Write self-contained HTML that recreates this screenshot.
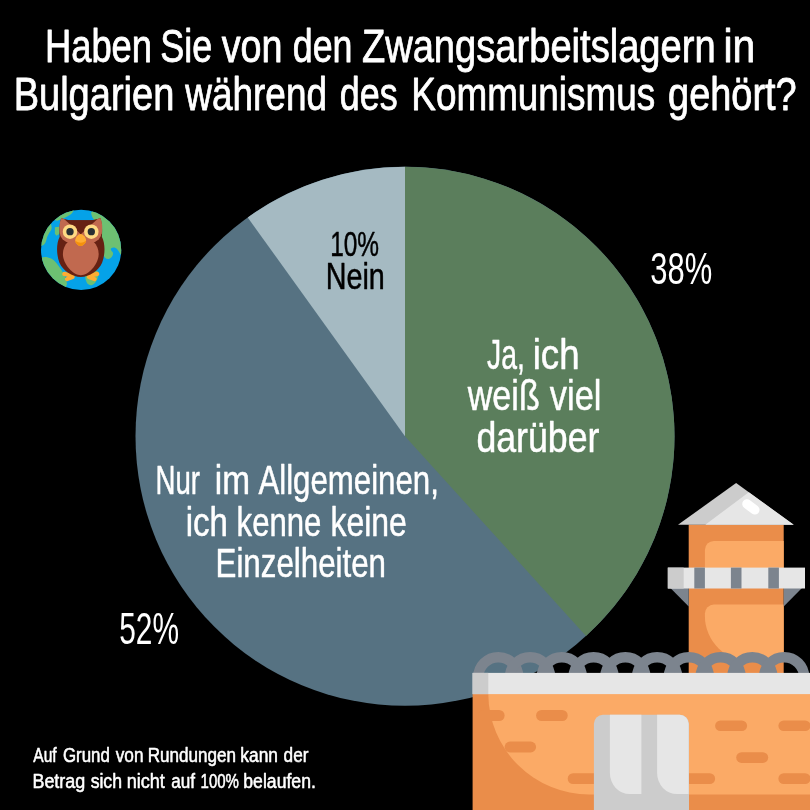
<!DOCTYPE html>
<html lang="de"><head><meta charset="utf-8"><title>Zwangsarbeitslager Umfrage</title>
<style>html,body{margin:0;padding:0;background:#000;}svg{display:block}text{font-family:"Liberation Sans",sans-serif;}</style>
</head><body>
<svg width="810" height="810" viewBox="0 0 810 810">
<rect width="810" height="810" fill="#000"/>
<circle cx="405" cy="436.3" r="269.5" fill="#567282"/>
<path d="M405 436.3 L405.00 166.80 A269.5 269.5 0 0 1 586.03 635.95 Z" fill="#5B7E5C"/>
<path d="M405 436.3 L247.74 217.44 A269.5 269.5 0 0 1 405.00 166.80 Z" fill="#A5BAC2"/>
<text y="62.2" font-size="46" fill="#fff" stroke="#fff" stroke-width="0.8" stroke-linejoin="round"><tspan x="44.97" textLength="107.08" lengthAdjust="spacingAndGlyphs">Haben</tspan> <tspan x="160.36" textLength="52.03" lengthAdjust="spacingAndGlyphs">Sie</tspan> <tspan x="221.77" textLength="60.81" lengthAdjust="spacingAndGlyphs">von</tspan> <tspan x="292.80" textLength="59.65" lengthAdjust="spacingAndGlyphs">den</tspan> <tspan x="361.88" textLength="353.74" lengthAdjust="spacingAndGlyphs">Zwangsarbeitslagern</tspan> <tspan x="723.47" textLength="31.81" lengthAdjust="spacingAndGlyphs">in</tspan></text>
<text y="110.3" font-size="46" fill="#fff" stroke="#fff" stroke-width="0.8" stroke-linejoin="round"><tspan x="13.64" textLength="160.70" lengthAdjust="spacingAndGlyphs">Bulgarien</tspan> <tspan x="185.37" textLength="141.60" lengthAdjust="spacingAndGlyphs">während</tspan> <tspan x="339.81" textLength="57.82" lengthAdjust="spacingAndGlyphs">des</tspan> <tspan x="411.33" textLength="243.84" lengthAdjust="spacingAndGlyphs">Kommunismus</tspan> <tspan x="668.12" textLength="128.56" lengthAdjust="spacingAndGlyphs">gehört?</tspan></text>
<text y="256.3" font-size="35.8" fill="#000" stroke="#000" stroke-width="0.5" stroke-linejoin="round"><tspan x="330.13" textLength="48.90" lengthAdjust="spacingAndGlyphs">10%</tspan></text>
<text y="289.2" font-size="36.8" fill="#000" stroke="#000" stroke-width="0.5" stroke-linejoin="round"><tspan x="325.74" textLength="59.11" lengthAdjust="spacingAndGlyphs">Nein</tspan></text>
<text y="283.5" font-size="43.8" fill="#fff"><tspan x="650.29" textLength="61.95" lengthAdjust="spacingAndGlyphs">38%</tspan></text>
<text y="643.5" font-size="43.8" fill="#fff"><tspan x="119.18" textLength="59.81" lengthAdjust="spacingAndGlyphs">52%</tspan></text>
<text y="369.4" font-size="43" fill="#fff" stroke="#fff" stroke-width="0.5" stroke-linejoin="round"><tspan x="487.02" textLength="37.80" lengthAdjust="spacingAndGlyphs">Ja,</tspan> <tspan x="532.69" textLength="46.87" lengthAdjust="spacingAndGlyphs">ich</tspan></text>
<text y="410.1" font-size="43" fill="#fff" stroke="#fff" stroke-width="0.5" stroke-linejoin="round"><tspan x="467.68" textLength="72.08" lengthAdjust="spacingAndGlyphs">weiß</tspan> <tspan x="549.82" textLength="51.59" lengthAdjust="spacingAndGlyphs">viel</tspan></text>
<text y="451.5" font-size="43" fill="#fff" stroke="#fff" stroke-width="0.5" stroke-linejoin="round"><tspan x="476.39" textLength="123.05" lengthAdjust="spacingAndGlyphs">darüber</tspan></text>
<text y="494.4" font-size="40" fill="#fff" stroke="#fff" stroke-width="0.5" stroke-linejoin="round"><tspan x="155.52" textLength="44.50" lengthAdjust="spacingAndGlyphs">Nur</tspan> <tspan x="214.85" textLength="35.23" lengthAdjust="spacingAndGlyphs">im</tspan> <tspan x="258.41" textLength="180.44" lengthAdjust="spacingAndGlyphs">Allgemeinen,</tspan></text>
<text y="535.5" font-size="40" fill="#fff" stroke="#fff" stroke-width="0.5" stroke-linejoin="round"><tspan x="185.79" textLength="42.15" lengthAdjust="spacingAndGlyphs">ich</tspan> <tspan x="236.58" textLength="84.77" lengthAdjust="spacingAndGlyphs">kenne</tspan> <tspan x="330.51" textLength="76.36" lengthAdjust="spacingAndGlyphs">keine</tspan></text>
<text y="576.5" font-size="40" fill="#fff" stroke="#fff" stroke-width="0.5" stroke-linejoin="round"><tspan x="215.56" textLength="170.40" lengthAdjust="spacingAndGlyphs">Einzelheiten</tspan></text>
<text y="762.0" font-size="20" fill="#fff" stroke="#fff" stroke-width="0.55" stroke-linejoin="round"><tspan x="33.34" textLength="23.36" lengthAdjust="spacingAndGlyphs">Auf</tspan> <tspan x="62.97" textLength="46.83" lengthAdjust="spacingAndGlyphs">Grund</tspan> <tspan x="115.74" textLength="27.76" lengthAdjust="spacingAndGlyphs">von</tspan> <tspan x="147.63" textLength="88.25" lengthAdjust="spacingAndGlyphs">Rundungen</tspan> <tspan x="240.36" textLength="37.64" lengthAdjust="spacingAndGlyphs">kann</tspan> <tspan x="283.62" textLength="24.84" lengthAdjust="spacingAndGlyphs">der</tspan></text>
<text y="788.0" font-size="20" fill="#fff" stroke="#fff" stroke-width="0.55" stroke-linejoin="round"><tspan x="32.43" textLength="52.86" lengthAdjust="spacingAndGlyphs">Betrag</tspan> <tspan x="90.65" textLength="31.36" lengthAdjust="spacingAndGlyphs">sich</tspan> <tspan x="126.63" textLength="38.27" lengthAdjust="spacingAndGlyphs">nicht</tspan> <tspan x="171.23" textLength="23.82" lengthAdjust="spacingAndGlyphs">auf</tspan> <tspan x="200.60" textLength="38.37" lengthAdjust="spacingAndGlyphs">100%</tspan> <tspan x="243.32" textLength="72.53" lengthAdjust="spacingAndGlyphs">belaufen.</tspan></text>
<g id="prison">
<rect x="688.7" y="524.6" width="95" height="150" fill="#EA8D4A"/>
<path d="M783.7 540.9 H713.9 A9 9 0 0 0 704.9 549.9 V568 H783.7 Z" fill="#FBAA66"/>
<path d="M783.7 604.6 H713.9 A9 9 0 0 0 704.9 613.6 V616 A47 46 0 0 0 751.9 662 H783.7 Z" fill="#FBAA66"/>
<path d="M670.4 588 H688.7 V606.6 Z" fill="#7C848E"/>
<path d="M802 588 H783.7 V606.6 Z" fill="#7C848E"/>
<rect x="667.8" y="567.6" width="137.2" height="20.9" fill="#E6E6E6"/>
<rect x="667.8" y="567.6" width="15.9" height="20.9" fill="#CCCCCC"/>
<rect x="694.3" y="567.6" width="10.6" height="20.9" fill="#7C848E"/>
<rect x="730.9" y="567.6" width="10.6" height="20.9" fill="#7C848E"/>
<rect x="768.3" y="567.6" width="10.6" height="20.9" fill="#7C848E"/>
<path d="M736.1 483 L793.7 524.8 H678 Z" fill="#CCCCCC"/>
<path d="M748.8 492.2 L793.7 524.8 H705.3 Z" fill="#E6E6E6"/>
<rect x="-9.6" y="-4.8" width="19.2" height="9.6" rx="4.8" fill="#fff" transform="translate(750.9 506.9) rotate(37)"/>
<circle cx="498.30" cy="677.2" r="20" fill="none" stroke="#7C848E" stroke-width="10.5"/>
<circle cx="530.06" cy="677.2" r="20" fill="none" stroke="#7C848E" stroke-width="10.5"/>
<circle cx="561.82" cy="677.2" r="20" fill="none" stroke="#7C848E" stroke-width="10.5"/>
<circle cx="593.58" cy="677.2" r="20" fill="none" stroke="#7C848E" stroke-width="10.5"/>
<circle cx="625.34" cy="677.2" r="20" fill="none" stroke="#7C848E" stroke-width="10.5"/>
<circle cx="657.10" cy="677.2" r="20" fill="none" stroke="#7C848E" stroke-width="10.5"/>
<circle cx="688.86" cy="677.2" r="20" fill="none" stroke="#7C848E" stroke-width="10.5"/>
<circle cx="720.62" cy="677.2" r="20" fill="none" stroke="#7C848E" stroke-width="10.5"/>
<circle cx="752.38" cy="677.2" r="20" fill="none" stroke="#7C848E" stroke-width="10.5"/>
<circle cx="784.14" cy="677.2" r="20" fill="none" stroke="#7C848E" stroke-width="10.5"/>
<rect x="472.6" y="694" width="340" height="120" fill="#EA8D4A"/>
<path d="M488.3 694 A101 101 0 0 0 589.3 794.5 H812 V694 Z" fill="#FBAA66"/>
<rect x="478.0" y="710.0" width="26.6" height="11.0" rx="5.50" fill="#EA8D4A"/>
<rect x="536.1" y="710.0" width="31.6" height="11.0" rx="5.50" fill="#EA8D4A"/>
<rect x="504.6" y="741.6" width="31.5" height="10.8" rx="5.40" fill="#EA8D4A"/>
<rect x="567.7" y="773.3" width="37.3" height="10.7" rx="5.35" fill="#EA8D4A"/>
<rect x="715.1" y="720.4" width="32.0" height="10.7" rx="5.35" fill="#EA8D4A"/>
<rect x="778.4" y="720.4" width="32.1" height="10.7" rx="5.35" fill="#EA8D4A"/>
<rect x="736.2" y="752.2" width="32.0" height="10.7" rx="5.35" fill="#EA8D4A"/>
<rect x="680.0" y="773.3" width="35.1" height="10.7" rx="5.35" fill="#EA8D4A"/>
<rect x="778.4" y="773.3" width="32.1" height="10.7" rx="5.35" fill="#EA8D4A"/>
<rect x="472.6" y="672.9" width="340" height="21.2" fill="#E6E6E6"/>
<rect x="472.6" y="672.9" width="15.7" height="21.2" fill="#CCCCCC"/>
<path d="M593.9 812 V723.8 A9 9 0 0 1 602.9 714.8 H680 A9 9 0 0 1 689 723.8 V812 Z" fill="#CCCCCC"/>
<path d="M609.9 714.8 H641.4 V794.1 H629.9 A20 21 0 0 1 609.9 773 Z" fill="#E6E6E6"/>
<path d="M657.1 714.8 H679.6 A9 9 0 0 1 688.6 723.8 V794.1 H677.1 A20 21 0 0 1 657.1 773 Z" fill="#E6E6E6"/>
</g>
<g id="logo" transform="translate(35 205) scale(0.11111)">
<clipPath id="gc"><circle cx="415" cy="404" r="361"/></clipPath>
<circle cx="415" cy="404" r="361" fill="#05A2E8"/>
<g clip-path="url(#gc)" fill="#6DC072">
<path d="M200 142 C240 125 290 108 320 85 C335 72 345 60 352 40 L200 0 L120 120 Z"/>
<path d="M143 168 C150 190 152 210 146 222 C138 236 120 262 112 282 C104 300 104 322 92 342 C84 356 70 366 50 372 L0 380 L0 200 L110 130 Z"/>
<path d="M179 201 L219 195 L223 258 L193 276 L179 258 Z"/>
<path d="M505 70 C512 55 525 45 540 35 L800 20 L800 440 L770 445 C760 430 752 412 740 398 C725 382 700 378 684 392 C676 402 694 414 702 430 C706 450 690 478 664 486 C640 490 622 470 612 440 C600 400 596 350 598 300 L600 190 C560 160 510 130 505 70 Z"/>
<path d="M40 480 C70 465 105 462 150 484 C180 500 205 535 235 580 C262 620 285 670 287 705 C288 720 282 732 272 745 L60 745 Z"/>
<path d="M452 640 C470 600 545 580 565 600 C575 640 560 700 510 722 C480 728 455 700 452 640 Z"/>
</g>
<g stroke="#FFAC33" stroke-width="38" stroke-linecap="round" fill="none">
<path d="M338 638 L264 620 M338 648 L288 667"/>
<path d="M486 638 L560 620 M486 648 L536 667"/>
</g>
<path d="M237 116 C265 128 300 138 335 138 L488 138 C522 138 558 128 588 116 C603 150 607 225 602 285 C632 345 634 440 604 520 C572 592 492 646 412 648 C333 646 252 592 220 520 C190 440 192 345 222 285 C217 225 221 150 237 116 Z" fill="#662113"/>
<path d="M237 116 C275 132 320 150 350 168 L330 260 L226 262 C214 215 218 155 237 116 Z" fill="#C1694F"/>
<path d="M588 116 C550 132 505 150 475 168 L495 260 L599 262 C611 215 607 155 588 116 Z" fill="#C1694F"/>
<circle cx="316" cy="244" r="94" fill="#C1694F"/>
<circle cx="506" cy="244" r="94" fill="#C1694F"/>
<path d="M262 125 C290 134 315 138 335 138 L488 138 C508 138 533 134 563 125 L412 264 Z" fill="#662113"/>
<path d="M412 285 C505 285 573 355 573 440 C573 535 480 632 412 632 C344 632 251 535 251 440 C251 355 320 285 412 285 Z" fill="#C1694F"/>
<circle cx="315" cy="240" r="65" fill="#FFD983"/>
<circle cx="315" cy="240" r="33" fill="#292F33"/>
<circle cx="507" cy="240" r="65" fill="#FFD983"/>
<circle cx="507" cy="240" r="33" fill="#292F33"/>
<path d="M410 260 C440 262 462 300 460 322 C455 350 425 370 410 370 C395 370 365 350 362 322 C360 300 382 262 410 260 Z" fill="#FFAC33"/>
<path d="M362 322 C395 345 430 345 460 322 C455 350 425 370 410 370 C395 370 365 350 362 322 Z" fill="#F4900C"/>
</g>
</svg></body></html>
